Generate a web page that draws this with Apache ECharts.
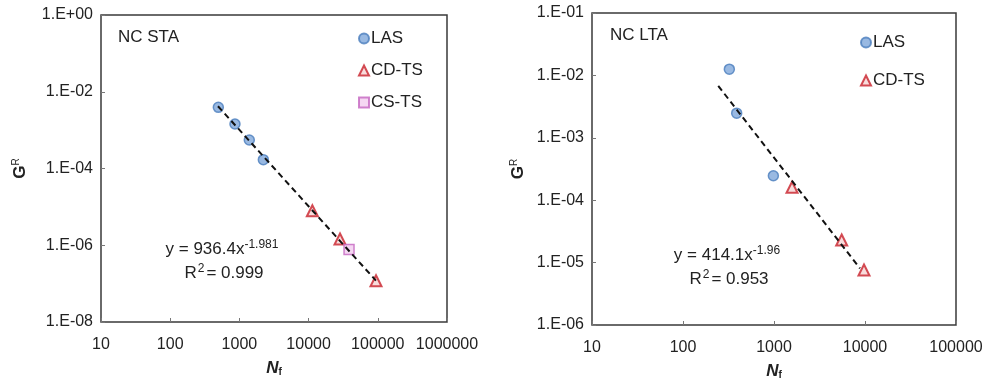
<!DOCTYPE html>
<html>
<head>
<meta charset="utf-8">
<script src="https://cdn.jsdelivr.net/npm/echarts@6/dist/echarts.min.js"></script>
<style>
html,body{margin:0;padding:0;background:#fff;}
#c{width:987px;height:379px;}
</style>
</head>
<body>
<div id="c"></div>
<script>
// ---- Left chart: NC STA ----
var staLAS = [[496, 3.93e-3], [863, 1.44e-3], [1390, 5.53e-4], [2218, 1.70e-4]];
var staCDTS = [[11330, 7.9e-6], [28440, 1.46e-6], [94200, 1.19e-7]];
var staCSTS = [[38400, 7.8e-7]];
var staTrend = [[490, 4.2e-3], [94000, 1.2e-7]];
var staEq = ['936.4', '-1.981', '0.999'];

// ---- Right chart: NC LTA ----
var ltaLAS = [[323, 1.26e-2], [389, 2.48e-3], [984, 2.47e-4]];
var ltaCDTS = [[1578, 1.61e-4], [5545, 2.30e-5], [9750, 7.6e-6]];
var ltaTrend = [[244, 6.8e-3], [8810, 8.07e-6]];
var ltaEq = ['414.1', '-1.96', '0.953'];

var seriesNames = ['LAS', 'CD-TS', 'CS-TS'];

var FONT = '"Liberation Sans", Arial, sans-serif';
var TXT = '#222';

function yFmt(v) {
  var e = Math.round(Math.log10(v));
  var s = e < 0 ? '-' : '+';
  var a = Math.abs(e);
  return '1.E' + s + (a < 10 ? '0' : '') + a;
}
function xFmt(v) {
  return String(Math.round(v));
}

var lasStyle = { color: '#7FA7DB', borderColor: '#4A7DBD', borderWidth: 1.5 };
var cdStyle = { color: '#F6D3D3', borderColor: '#C8202A', borderWidth: 2 };
var csStyle = { color: '#F3CDEF', borderColor: '#C465C0', borderWidth: 1.5 };

function xAxis(idx, max) {
  return {
    type: 'log', gridIndex: idx, min: 10, max: max, logBase: 10,
    name: '{n|N}{f|f}', nameLocation: 'middle', nameGap: 37,
    nameTextStyle: { rich: {
      n: { fontFamily: FONT, fontSize: 17, fontWeight: 'bold', fontStyle: 'italic', color: TXT },
      f: { fontFamily: FONT, fontSize: 10, fontWeight: 'bold', color: TXT, verticalAlign: 'bottom', padding: [8, 0, 0, 0] }
    } },
    axisLine: { show: false },
    axisTick: { show: true, inside: true, length: 4, lineStyle: { color: '#777', width: 1 } },
    axisLabel: { formatter: xFmt, fontFamily: FONT, fontSize: 16, color: TXT, margin: 15, showMinLabel: true, showMaxLabel: true },
    splitLine: { show: false },
    minorTick: { show: false }
  };
}
function yAxis(idx, min, max, interval, gap) {
  return {
    type: 'log', gridIndex: idx, min: min, max: max, logBase: 10, interval: interval,
    name: '{g|G}{r|R}', nameLocation: 'middle', nameGap: gap, nameRotate: 90,
    nameTextStyle: { rich: {
      g: { fontFamily: FONT, fontSize: 17, fontWeight: 'bold', color: TXT },
      r: { fontFamily: FONT, fontSize: 10, color: TXT, verticalAlign: 'top', padding: [0, 0, 8, 0] }
    } },
    axisLine: { show: false },
    axisTick: { show: true, inside: true, length: 4, lineStyle: { color: '#777', width: 1 } },
    axisLabel: { formatter: yFmt, fontFamily: FONT, fontSize: 16, color: TXT, margin: 8, showMinLabel: true, showMaxLabel: true },
    splitLine: { show: false },
    minorTick: { show: false }
  };
}

function scatter(name, data, idx, symbol, size, style) {
  return {
    type: 'scatter', name: name, xAxisIndex: idx, yAxisIndex: idx,
    data: data, symbol: symbol, symbolSize: size, itemStyle: style, z: 3
  };
}
function trend(data, idx) {
  return {
    type: 'line', name: 'trend' + idx, xAxisIndex: idx, yAxisIndex: idx,
    data: data, symbol: 'none', z: 4,
    lineStyle: { color: '#111', width: 2, type: [6, 4] }
  };
}

function eqText(x, y, eq) {
  return [{
    type: 'text', x: x, y: y,
    style: {
      text: '{a|y = ' + eq[0] + 'x}{s|' + eq[1] + '}',
      align: 'center', verticalAlign: 'middle',
      rich: {
        a: { fontFamily: FONT, fontSize: 17, fill: TXT },
        s: { fontFamily: FONT, fontSize: 12, fill: TXT, verticalAlign: 'top', padding: [0, 0, 8, 0] }
      }
    }
  }, {
    type: 'text', x: x + 2, y: y + 24,
    style: {
      text: '{a|R}{s|2}{a|= ' + eq[2] + '}',
      align: 'center', verticalAlign: 'middle',
      rich: {
        a: { fontFamily: FONT, fontSize: 17, fill: TXT },
        s: { fontFamily: FONT, fontSize: 12, fill: TXT, verticalAlign: 'top', padding: [0, 2, 8, 1] }
      }
    }
  }];
}

var chart = echarts.init(document.getElementById('c'));
chart.setOption({
  animation: false,
  backgroundColor: '#fff',
  grid: [
    { left: 101, top: 15, width: 346, height: 307, outerBoundsMode: 'none', containLabel: false, show: true, borderColor: '#3a3a3a', borderWidth: 1.5, backgroundColor: 'transparent' },
    { left: 592, top: 13, width: 364, height: 312, outerBoundsMode: 'none', containLabel: false, show: true, borderColor: '#3a3a3a', borderWidth: 1.5, backgroundColor: 'transparent' }
  ],
  xAxis: [xAxis(0, 1e6), xAxis(1, 1e5)],
  yAxis: [yAxis(0, 1e-8, 1, 2, 72), yAxis(1, 1e-6, 1e-1, 1, 65)],
  legend: [
    { orient: 'vertical', left: 353, top: 25, itemWidth: 10, itemHeight: 10, itemGap: 15,
      data: seriesNames.slice(0, 3), textStyle: { fontFamily: FONT, fontSize: 17, color: TXT, padding: [0, 0, 0, -3] }, selectedMode: false },
    { orient: 'vertical', left: 855, top: 29, itemWidth: 10, itemHeight: 10, itemGap: 21,
      data: [seriesNames[0] + ' ', seriesNames[1] + ' '], textStyle: { fontFamily: FONT, fontSize: 17, color: TXT, padding: [0, 0, 0, -3] }, selectedMode: false }
  ],
  series: [
    trend(staTrend, 0),
    scatter(seriesNames[0], staLAS, 0, 'circle', 10, lasStyle),
    scatter(seriesNames[1], staCDTS, 0, 'triangle', 11, cdStyle),
    scatter(seriesNames[2], staCSTS, 0, 'rect', 10, csStyle),
    trend(ltaTrend, 1),
    scatter(seriesNames[0] + ' ', ltaLAS, 1, 'circle', 10, lasStyle),
    scatter(seriesNames[1] + ' ', ltaCDTS, 1, 'triangle', 11, cdStyle)
  ],
  graphic: [
    { type: 'text', x: 118, y: 37, style: { text: 'NC STA', fontFamily: FONT, fontSize: 17, fill: TXT, verticalAlign: 'middle' } },
    { type: 'text', x: 610, y: 35, style: { text: 'NC LTA', fontFamily: FONT, fontSize: 17, fill: TXT, verticalAlign: 'middle' } }
  ].concat(eqText(222, 249, staEq)).concat(eqText(727, 255, ltaEq))
});
</script>
</body>
</html>
